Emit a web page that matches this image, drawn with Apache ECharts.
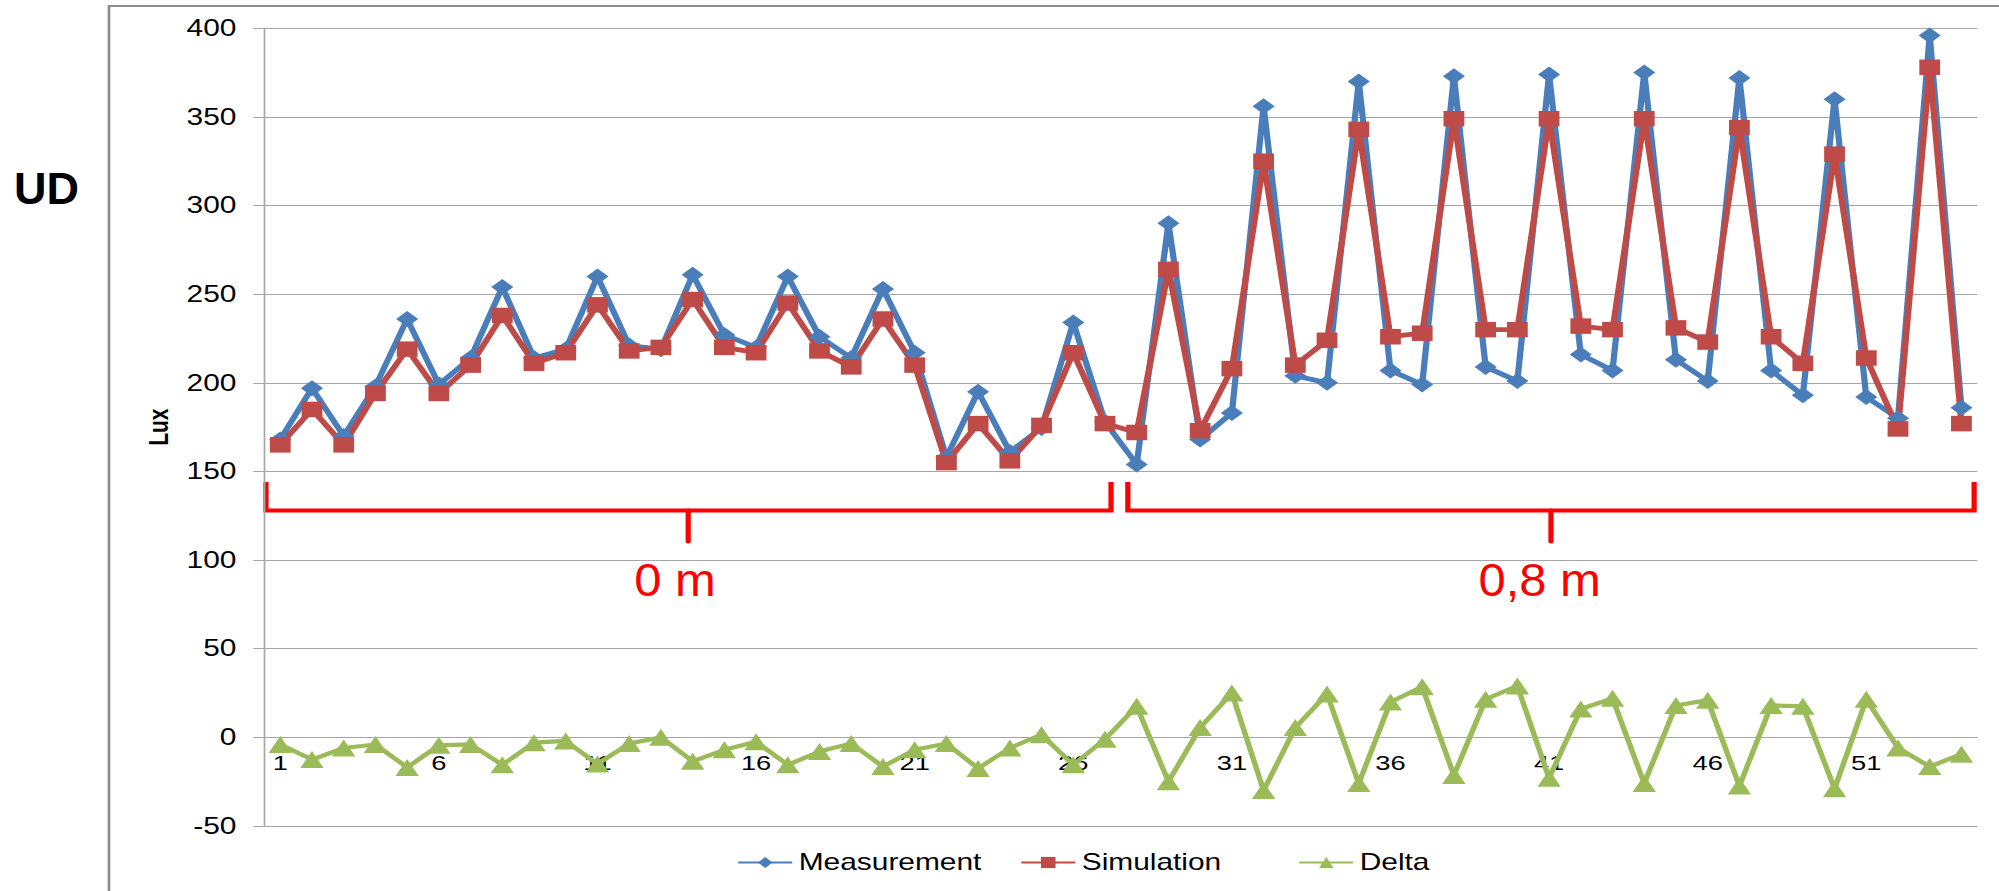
<!DOCTYPE html>
<html>
<head>
<meta charset="utf-8">
<script src="https://cdn.jsdelivr.net/npm/echarts@6.0.0/dist/echarts.min.js"></script>
<style>
html, body { margin: 0; padding: 0; background: #fff; overflow: hidden; }
/* the source picture is an Excel chart stretched sideways, so draw narrower and stretch */
#chart_ud {
    width: 1538px;
    height: 891px;
    transform: scaleX(1.29974);
    transform-origin: 0 0;
}
</style>
</head>
<body>
<div id="chart_ud"></div>
<script>
const STRETCH = 1999 / 1538;

const categories = [];
for (let i = 1; i <= 54; i++) categories.push(String(i));

const measurement = [168, 197, 170, 198, 236, 199, 214, 254, 214, 219,
    260, 221, 219, 261, 227, 220, 260, 226, 214, 253,
    217, 158, 195, 161, 174.5, 234, 178, 154, 290, 168,
    183, 356, 204, 200, 370, 207, 199, 373, 209, 201,
    374, 216, 207, 375, 213, 201, 372, 207, 193, 360,
    192, 180, 396, 186];

const simulation = [165, 185, 165, 194, 219, 194, 210, 238, 211, 217,
    244, 218, 220, 247, 220, 217, 245, 218, 209, 236,
    210, 155, 177, 156, 176, 217, 177, 172, 264, 173,
    208, 325, 210, 224, 343, 226, 228, 349, 230, 230,
    349, 232, 230, 349, 231, 223, 344, 226, 211, 329,
    214, 174, 378, 177];

const delta = [-4, -12.5, -6, -4, -17, -4.5, -4, -15.5, -3, -2,
    -15, -3.5, 0, -13.5, -7, -2.5, -15.5, -8, -3.5, -16.5,
    -7, -3.5, -17.5, -6, 1.5, -15.5, -1, 17.5, -25, 5.5,
    25, -30, 5.5, 24.5, -26, 20, 28.5, -21.5, 21.5, 29,
    -23, 16, 22, -26, 18, 21, -27.5, 18, 17.5, -29,
    21.5, -6, -16.5, -9.5];

const yTicks = { min: -50, max: 400, step: 50 };

// red brackets: [from, to, middle] as category index (0-based), label under the middle
const groups = [
    { from: -0.45, to: 26.19, mid: 12.86, label: '0 m', labelAt: 12.44 },
    { from: 26.72, to: 53.4, mid: 40.06, label: '0,8 m', labelAt: 39.7 }
];
const bracketLevels = { line: 128, ends: 144, tick: 110.5, label: 88.8 };

const FONT = "'Liberation Sans', Arial, sans-serif";

const gridTop = 28.3;
const gridBottom = 65;
const gridHeight = 891 - gridTop - gridBottom;
// Excel puts the category axis on the zero line
const zeroOffset = -gridHeight * (0 - yTicks.min) / (yTicks.max - yTicks.min);

let chartDom = document.getElementById('chart_ud');
let myChart = echarts.init(chartDom, null, { renderer: 'svg' });

function legendAt(name, leftFull) {
    return {
        left: leftFull / STRETCH,
        top: 851,
        padding: 0,
        itemWidth: 41.5,
        itemHeight: 14,
        textStyle: {
            color: '#000',
            fontSize: 23,
            fontFamily: FONT
        },
        data: [name]
    };
}

let option = {
    animation: false,
    backgroundColor: '#fff',
    grid: {
        left: 264.4 / STRETCH,
        right: 1538 - 1977.3 / STRETCH,
        top: gridTop,
        bottom: gridBottom,
        outerBoundsMode: 'none'
    },
    legend: [
        legendAt('Measurement', 737),
        legendAt('Simulation', 1020),
        legendAt('Delta', 1298)
    ],
    xAxis: {
        type: 'category',
        data: categories,
        boundaryGap: true,
        position: 'bottom',
        offset: zeroOffset,
        axisLine: {
            onZero: false,
            lineStyle: { color: '#a6a6a6', width: 1 }
        },
        axisTick: {
            interval: 4,
            length: 6,
            lineStyle: { color: '#a6a6a6', width: 1 }
        },
        axisLabel: {
            interval: 4,
            margin: 15,
            color: '#000',
            fontSize: 21,
            fontFamily: FONT
        },
        splitLine: { show: false }
    },
    yAxis: {
        type: 'value',
        min: yTicks.min,
        max: yTicks.max,
        interval: yTicks.step,
        name: 'Lux',
        nameLocation: 'middle',
        nameRotate: 90,
        nameGap: 67,
        nameTextStyle: {
            color: '#000',
            fontSize: 21,
            fontWeight: 'bold',
            fontFamily: FONT
        },
        axisLine: {
            show: true,
            lineStyle: { color: '#a6a6a6', width: 1.3 }
        },
        axisTick: {
            show: true,
            length: 8.5,
            lineStyle: { color: '#a6a6a6', width: 1 }
        },
        axisLabel: {
            margin: 21.5,
            color: '#000',
            fontSize: 23,
            fontFamily: FONT
        },
        splitLine: {
            lineStyle: { color: '#a6a6a6', width: 1 }
        }
    },
    series: [
        {
            name: 'Measurement',
            type: 'line',
            data: measurement,
            symbol: 'diamond',
            symbolSize: [17, 16],
            showAllSymbol: true,
            color: '#4A7EBB',
            lineStyle: { color: '#4A7EBB', width: 4.8 },
            itemStyle: { color: '#4A7EBB' }
        },
        {
            name: 'Simulation',
            type: 'line',
            data: simulation,
            symbol: 'rect',
            symbolSize: [16, 15.5],
            showAllSymbol: true,
            color: '#BE4B48',
            lineStyle: { color: '#BE4B48', width: 4.8 },
            itemStyle: { color: '#BE4B48' }
        },
        {
            name: 'Delta',
            type: 'line',
            data: delta,
            symbol: 'triangle',
            symbolSize: [18, 17],
            showAllSymbol: true,
            color: '#9BBB59',
            lineStyle: { color: '#9BBB59', width: 4.2 },
            itemStyle: { color: '#9BBB59' }
        }
    ]
};

myChart.setOption(option);

// place annotations from the axes so they follow the scales
const x0 = myChart.convertToPixel({ xAxisIndex: 0 }, 0);
const x1 = myChart.convertToPixel({ xAxisIndex: 0 }, 1);
const xAt = k => x0 + k * (x1 - x0);
const yAt = v => myChart.convertToPixel({ yAxisIndex: 0 }, v);

let graphics = [
    // chart area frame (left and top edges)
    {
        type: 'polyline',
        silent: true,
        shape: { points: [[109 / STRETCH, 900], [109 / STRETCH, 6], [1600, 6]] },
        style: { stroke: '#8c8c8c', lineWidth: 2, fill: null }
    },
    {
        type: 'text',
        x: 46.5 / STRETCH,
        y: 188,
        scaleX: 1 / STRETCH,
        style: {
            text: 'UD',
            fill: '#000',
            fontSize: 45,
            fontWeight: 'bold',
            fontFamily: FONT,
            align: 'center',
            verticalAlign: 'middle',
            textAlign: 'center',
            textVerticalAlign: 'middle'
        }
    }
];

groups.forEach(g => {
    const yl = yAt(bracketLevels.line);
    const ye = yAt(bracketLevels.ends);
    graphics.push({
        type: 'polyline',
        silent: true,
        shape: { points: [[xAt(g.from), ye], [xAt(g.from), yl], [xAt(g.to), yl], [xAt(g.to), ye]] },
        style: { stroke: '#FF0000', lineWidth: 4, fill: null, lineJoin: 'miter' }
    });
    graphics.push({
        type: 'line',
        silent: true,
        shape: { x1: xAt(g.mid), y1: yl, x2: xAt(g.mid), y2: yAt(bracketLevels.tick) },
        style: { stroke: '#FF0000', lineWidth: 4, lineCap: 'round' }
    });
    graphics.push({
        type: 'text',
        x: xAt(g.labelAt),
        y: yAt(bracketLevels.label),
        scaleX: 1.04 / STRETCH,
        style: {
            text: g.label,
            fill: '#FF0000',
            fontSize: 47,
            fontFamily: FONT,
            align: 'center',
            verticalAlign: 'middle',
            textAlign: 'center',
            textVerticalAlign: 'middle'
        }
    });
});

myChart.setOption({ graphic: graphics });
</script>
</body>
</html>
